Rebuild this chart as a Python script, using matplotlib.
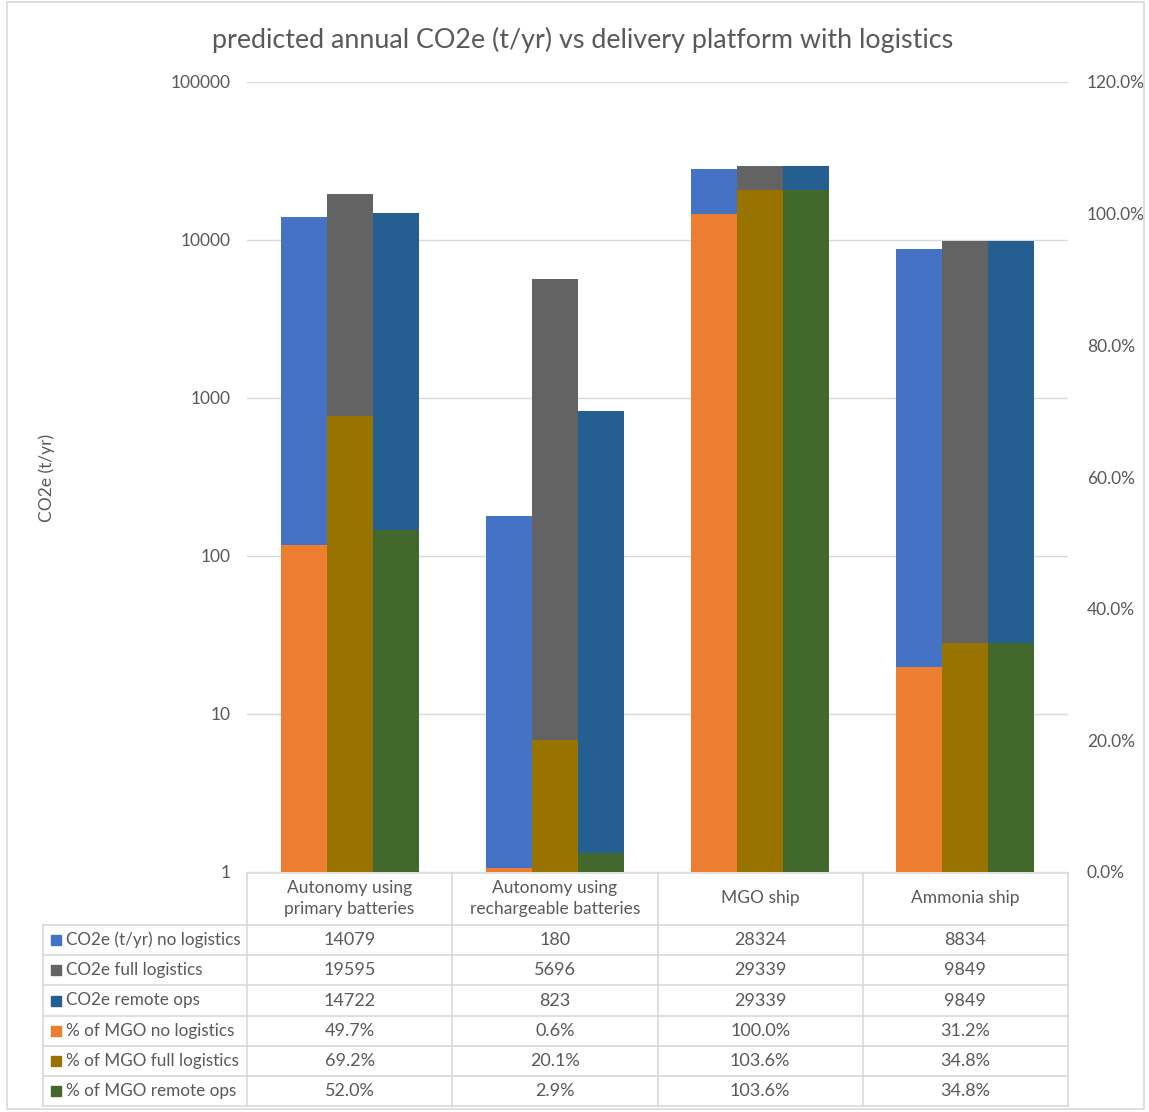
import matplotlib.pyplot as plt
import numpy as np
from matplotlib.lines import Line2D
from matplotlib.patches import Rectangle

plt.rcParams["font.family"] = ["Lato", "DejaVu Sans"]

categories = ["Autonomy using\nprimary batteries", "Autonomy using\nrechargeable batteries",
              "MGO ship", "Ammonia ship"]
co2_names = ["CO2e (t/yr) no logistics", "CO2e full logistics", "CO2e remote ops"]
co2_no_logistics = [14079, 180, 28324, 8834]
co2_full_logistics = [19595, 5696, 29339, 9849]
co2_remote_ops = [14722, 823, 29339, 9849]
pct_names = ["% of MGO no logistics", "% of MGO full logistics", "% of MGO remote ops"]
pct_no_logistics = [0.497, 0.006, 1.000, 0.312]
pct_full_logistics = [0.692, 0.201, 1.036, 0.348]
pct_remote_ops = [0.520, 0.029, 1.036, 0.348]

co2_colors = ["#4472C4", "#636363", "#255E91"]
pct_colors = ["#ED7D31", "#997300", "#43682B"]
TEXT = "#595959"
GRID = "#D9D9D9"

W, H = 1149, 1112
fig = plt.figure(figsize=(W / 100, H / 100), dpi=100)


def fx(px):
    return px / W


def fy(py):
    return 1 - py / H


# plot area in pixel coords
left, right, top, bottom = 247, 1068, 82, 872
ax = fig.add_axes([fx(left), fy(bottom), fx(right - left), fy(top) - fy(bottom)])
ax2 = ax.twinx()

x = np.arange(len(categories))
bw = 0.224
co2_series = [co2_no_logistics, co2_full_logistics, co2_remote_ops]
pct_series = [pct_no_logistics, pct_full_logistics, pct_remote_ops]
for i, (vals, c) in enumerate(zip(co2_series, co2_colors)):
    ax.bar(x + (i - 1) * bw, vals, bw, color=c, zorder=2)
for i, (vals, c) in enumerate(zip(pct_series, pct_colors)):
    ax2.bar(x + (i - 1) * bw, vals, bw, color=c, zorder=2)

ax.set_yscale("log")
ax.set_ylim(1, 100000)
ax.set_xlim(-0.5, len(categories) - 0.5)
ax.set_yticks([1, 10, 100, 1000, 10000, 100000])
ax.set_yticklabels(["1", "10", "100", "1000", "10000", "100000"])
ax.yaxis.set_minor_locator(plt.NullLocator())
ax.grid(axis="y", color=GRID, linewidth=1, zorder=0)
ax.set_axisbelow(True)
ax.set_xticks([])
ax2.set_ylim(0, 1.2)
ax2.set_yticks(np.arange(0, 1.21, 0.2))
ax2.set_yticklabels([f"{v:.1%}" for v in np.arange(0, 1.21, 0.2)])
for a in (ax, ax2):
    for s in a.spines.values():
        s.set_visible(False)
    a.tick_params(length=0, labelsize=12.5, labelcolor=TEXT)
ax.tick_params(axis="y", pad=12)
ax2.tick_params(axis="y", pad=13.5)

fig.text(fx(47), fy(478), "CO2e (t/yr)", rotation=90, ha="center", va="center",
         fontsize=12.5, color=TEXT)
fig.text(fx(583), fy(40), "predicted annual CO2e (t/yr) vs delivery platform with logistics",
         ha="center", va="center", fontsize=19.4, color=TEXT)

# data table under the plot, drawn in pixel coordinates
tab = fig.add_axes([0, 0, 1, 1])
tab.set_xlim(0, W)
tab.set_ylim(H, 0)
tab.axis("off")
col_edges = np.linspace(left, right, len(categories) + 1)
label_left = 43
header_bottom = 925
row_h = 30.2
rows = [(n, [f"{v}" for v in s], c) for n, s, c in zip(co2_names, co2_series, co2_colors)]
rows += [(n, [f"{v:.1%}" for v in s], c) for n, s, c in zip(pct_names, pct_series, pct_colors)]
table_bottom = header_bottom + row_h * len(rows)

line_kw = dict(color=GRID, linewidth=1.2)
tab.add_line(Line2D([left, right], [bottom + 1, bottom + 1], **line_kw))
for xe in col_edges:
    tab.add_line(Line2D([xe, xe], [bottom + 1, table_bottom], **line_kw))
tab.add_line(Line2D([label_left, label_left], [header_bottom, table_bottom], **line_kw))
for r in range(len(rows) + 1):
    yy = header_bottom + r * row_h
    tab.add_line(Line2D([label_left, right], [yy, yy], **line_kw))

for j, cat in enumerate(categories):
    tab.text((col_edges[j] + col_edges[j + 1]) / 2, (bottom + header_bottom) / 2, cat,
             ha="center", va="center", fontsize=12.5, color=TEXT, linespacing=1.35)
for r, (name, cells, c) in enumerate(rows):
    yc = header_bottom + (r + 0.5) * row_h
    tab.add_patch(Rectangle((51, yc - 5), 10, 10, color=c))
    tab.text(66, yc, name, ha="left", va="center", fontsize=12.3, color=TEXT)
    for j, cell in enumerate(cells):
        tab.text((col_edges[j] + col_edges[j + 1]) / 2, yc, cell,
                 ha="center", va="center", fontsize=13, color=TEXT)

# chart border
tab.add_patch(Rectangle((7, 2), W - 12, H - 5, fill=False, edgecolor=GRID, linewidth=1.2))

fig.savefig("out.png", dpi=100)
